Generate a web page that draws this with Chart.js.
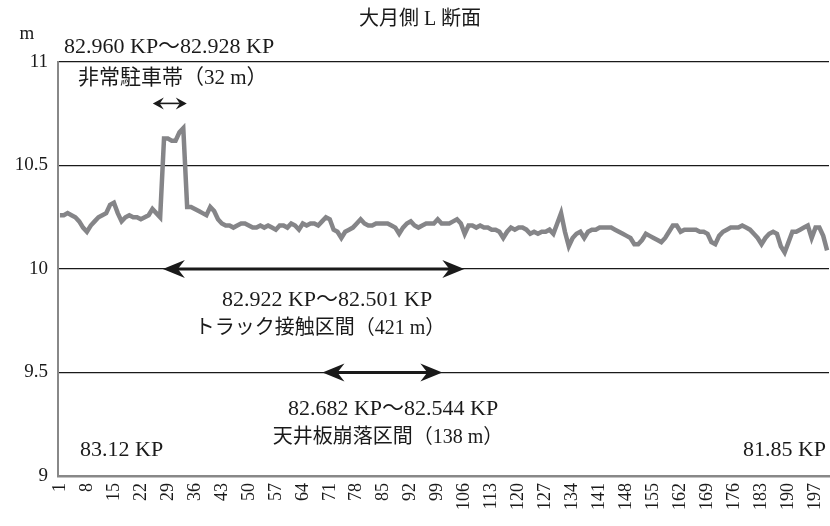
<!DOCTYPE html>
<html>
<head>
<meta charset="utf-8">
<script src="https://cdn.jsdelivr.net/npm/chart.js@4.4.1/dist/chart.umd.min.js"></script>
<style>
  body { margin: 0; background: #fff; }
  canvas { display: block; }
</style>
</head>
<body>
<canvas id="lChart" width="830" height="526"></canvas>
<script>
// heights along the section (m), one per measuring point 1..200
const heights = [
  10.26, 10.26, 10.27, 10.26, 10.25, 10.23, 10.20, 10.18, 10.21, 10.23,
  10.25, 10.26, 10.27, 10.31, 10.32, 10.27, 10.23, 10.25, 10.26, 10.25,
  10.25, 10.24, 10.25, 10.26, 10.29, 10.27, 10.25, 10.63, 10.63, 10.62,
  10.62, 10.66, 10.68, 10.30, 10.30, 10.29, 10.28, 10.27, 10.26, 10.30,
  10.28, 10.24, 10.22, 10.21, 10.21, 10.20, 10.21, 10.22, 10.22, 10.21,
  10.20, 10.20, 10.21, 10.20, 10.21, 10.20, 10.19, 10.21, 10.21, 10.20,
  10.22, 10.21, 10.19, 10.22, 10.21, 10.22, 10.22, 10.21, 10.23, 10.25,
  10.24, 10.19, 10.18, 10.15, 10.18, 10.19, 10.20, 10.22, 10.24, 10.22,
  10.21, 10.21, 10.22, 10.22, 10.22, 10.22, 10.21, 10.20, 10.17, 10.20,
  10.22, 10.23, 10.21, 10.20, 10.21, 10.22, 10.22, 10.22, 10.24, 10.22,
  10.22, 10.22, 10.23, 10.24, 10.22, 10.17, 10.21, 10.21, 10.20, 10.21,
  10.20, 10.20, 10.19, 10.19, 10.18, 10.15, 10.18, 10.20, 10.19, 10.20,
  10.20, 10.19, 10.17, 10.18, 10.17, 10.18, 10.18, 10.19, 10.17, 10.22,
  10.27, 10.18, 10.11, 10.15, 10.17, 10.18, 10.15, 10.18, 10.19, 10.19,
  10.20, 10.20, 10.20, 10.20, 10.19, 10.18, 10.17, 10.16, 10.15, 10.12,
  10.12, 10.14, 10.17, 10.16, 10.15, 10.14, 10.13, 10.15, 10.18, 10.21,
  10.21, 10.18, 10.19, 10.19, 10.19, 10.19, 10.18, 10.18, 10.17, 10.13,
  10.12, 10.16, 10.18, 10.19, 10.20, 10.20, 10.20, 10.21, 10.20, 10.19,
  10.17, 10.15, 10.12, 10.15, 10.17, 10.18, 10.17, 10.11, 10.08, 10.13,
  10.18, 10.18, 10.19, 10.20, 10.21, 10.15, 10.20, 10.20, 10.16, 10.09
];
const points = heights.map((h, i) => String(i + 1));

// y axis
const yMin = 9;
const yMax = 11;
const yStep = 0.5;

// marked sections: start/end point index and the height the arrow sits at
const spanStart = [24.1, 26.7, 68.1];
const spanEnd = [32.9, 104.9, 99.2];
const spanLevel = [10.8, 10, 9.5];
const spanHeavy = [false, true, true];

const serif = '"Liberation Serif", "Noto Sans CJK JP", serif';

function drawArrow(ctx, x1, x2, y, heavy) {
  const lw = heavy ? 3.2 : 1.6;
  const len = heavy ? 22 : 11;
  const half = heavy ? 9 : 6;
  const notch = heavy ? 7 : 4;
  ctx.save();
  ctx.strokeStyle = '#1a1a1a';
  ctx.fillStyle = '#1a1a1a';
  ctx.lineWidth = lw;
  ctx.beginPath();
  ctx.moveTo(x1 + len - notch, y);
  ctx.lineTo(x2 - len + notch, y);
  ctx.stroke();
  // left head
  ctx.beginPath();
  ctx.moveTo(x1, y);
  ctx.lineTo(x1 + len, y - half);
  ctx.lineTo(x1 + len - notch, y);
  ctx.lineTo(x1 + len, y + half);
  ctx.closePath();
  ctx.fill();
  // right head
  ctx.beginPath();
  ctx.moveTo(x2, y);
  ctx.lineTo(x2 - len, y - half);
  ctx.lineTo(x2 - len + notch, y);
  ctx.lineTo(x2 - len, y + half);
  ctx.closePath();
  ctx.fill();
  ctx.restore();
}

function text(ctx, s, x, y, size, align) {
  ctx.font = size + 'px ' + serif;
  ctx.textAlign = align || 'left';
  ctx.fillText(s, x, y);
}

const notes = {
  id: 'notes',
  afterDraw(chart) {
    const ctx = chart.ctx;
    const xs = chart.scales.x;
    const ys = chart.scales.y;
    ctx.save();
    ctx.fillStyle = '#1a1a1a';
    ctx.textBaseline = 'middle';
    text(ctx, '大月側 L 断面', 420, 20, 20, 'center');
    text(ctx, 'm', 27, 34, 19, 'center');
    text(ctx, '82.960 KP～82.928 KP', 64, 47, 22);
    text(ctx, '非常駐車帯（32 m）', 78, 78, 21);
    text(ctx, '82.922 KP～82.501 KP', 327, 300, 22, 'center');
    text(ctx, 'トラック接触区間（421 m）', 320, 329, 20, 'center');
    text(ctx, '82.682 KP～82.544 KP', 393, 409, 22, 'center');
    text(ctx, '天井板崩落区間（138 m）', 388, 438, 20, 'center');
    text(ctx, '83.12 KP', 80, 450, 22);
    text(ctx, '81.85 KP', 826, 450, 22, 'right');
    for (let i = 0; i < spanStart.length; i++) {
      drawArrow(ctx, xs.getPixelForValue(spanStart[i]), xs.getPixelForValue(spanEnd[i]),
        ys.getPixelForValue(spanLevel[i]), spanHeavy[i]);
    }
    ctx.restore();
  }
};

new Chart(document.getElementById('lChart'), {
  type: 'line',
  data: {
    labels: points,
    datasets: [{
      data: heights,
      borderColor: '#858588',
      borderWidth: 4.5,
      pointRadius: 0,
      tension: 0,
      fill: false
    }]
  },
  options: {
    responsive: false,
    animation: false,
    layout: { padding: { top: 62, right: 1, left: 0, bottom: 0 } },
    plugins: { legend: { display: false }, tooltip: { enabled: false } },
    scales: {
      x: {
        offset: true,
        grid: { display: false, drawTicks: false },
        border: { display: true, color: '#888', width: 2.5 },
        ticks: {
          autoSkip: false,
          minRotation: 90,
          maxRotation: 90,
          padding: 7,
          color: '#1a1a1a',
          font: { family: serif, size: 18 },
          callback: (v, i) => (i % 7 === 0 ? points[i] : '')
        },
        afterFit: (s) => {
          s.height = 50;
          s.paddingLeft = 0;
          s.paddingRight = 0;
        }
      },
      y: {
        min: yMin,
        max: yMax,
        ticks: {
          stepSize: yStep,
          padding: 10,
          color: '#1a1a1a',
          font: { family: serif, size: 19 },
          callback: (v) => String(v)
        },
        grid: {
          drawTicks: false,
          lineWidth: 1.3,
          color: (c) => (c.tick && c.tick.value === yMin ? 'rgba(0,0,0,0)' : '#1a1a1a')
        },
        border: { color: '#888', width: 2 },
        afterFit: (s) => {
          s.width = 58;
          s.paddingTop = 0;
          s.paddingBottom = 0;
        }
      }
    }
  },
  plugins: [notes]
});
</script>
</body>
</html>
